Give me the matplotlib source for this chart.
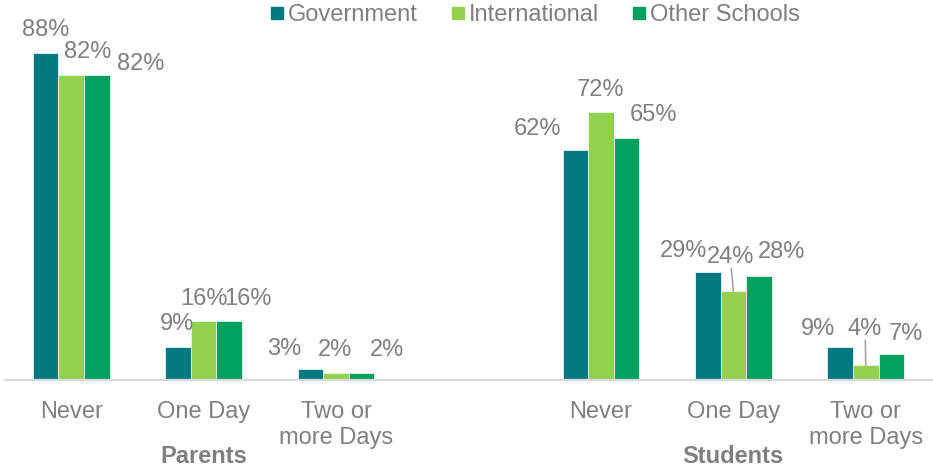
import numpy as np
import matplotlib
matplotlib.use("Agg")
import matplotlib.pyplot as plt
from matplotlib.lines import Line2D

plt.rcParams["font.family"] = ["Liberation Sans", "DejaVu Sans"]

categories = ["Never", "One Day", "Two or\nmore Days"]
groups = ["Parents", "Students"]
series = ["Government", "International", "Other Schools"]

# percentages per series: Parents (3 cats) then Students (3 cats)
government = [88, 9, 3, 62, 29, 9]
international = [82, 16, 2, 72, 24, 4]
other_schools = [82, 16, 2, 65, 28, 7]

colors = ["#007A80", "#92D050", "#00A05E"]
grey = "#7F7F7F"

# label nudges in pixels (dx, dy above bar top) so the labels don't collide
label_offsets = [
    [(0, 17), (-1.5, 16.5), (-26, 14), (-37.5, 15), (-24, 15.5), (-22, 11.5)],
    [(16, 17), (0, 15.5), (-1, 16.5), (0, 16.5), (-3, 27.5), (-1.5, 30)],
    [(43.5, 5), (18.5, 15.5), (25, 16.5), (27.5, 17.5), (23, 17.5), (15, 14)],
]
leader_lines = {(1, 4), (1, 5)}

positions = np.array([0, 1, 2, 4, 5, 6])
width = 0.193

fig = plt.figure(figsize=(9.33, 4.68), dpi=100)
ax = fig.add_axes([5 / 933, 88 / 468, 927 / 933, (380 - 8.4) / 468])

values = [government, international, other_schools]
for i, vals in enumerate(values):
    xs = positions + (i - 1) * width
    ax.bar(xs, vals, width=width, color=colors[i], edgecolor="#E8F4F2", linewidth=0.6, zorder=2)
    for j, (x, v) in enumerate(zip(xs, vals)):
        dx, dy = label_offsets[i][j]
        ax.annotate(f"{v}%", xy=(x, v), xytext=(dx, dy), textcoords="offset pixels",
                    ha="center", va="baseline", fontsize=17, color=grey)
        if (i, j) in leader_lines:
            ax.annotate("", xy=(x, v), xytext=(dx + 1, dy - 5), textcoords="offset pixels",
                        arrowprops=dict(arrowstyle="-", color="#A6A6A6", lw=1.2,
                                        shrinkA=0, shrinkB=0))

ax.set_xlim(-0.5, 6.5)
ax.set_ylim(0, 100)
ax.set_xticks(positions)
ax.set_xticklabels(categories * 2, fontsize=17, color=grey, linespacing=1.28)
ax.tick_params(axis="x", length=0, pad=14.8)
ax.set_yticks([])
for side in ["top", "right", "left"]:
    ax.spines[side].set_visible(False)
ax.spines["bottom"].set_color("#D9D9D9")
ax.spines["bottom"].set_linewidth(1.6)

for g, center in zip(groups, [1, 5]):
    ax.annotate(g, xy=(center, 0), xycoords=("data", "axes fraction"),
                xytext=(0, -83), textcoords="offset pixels",
                ha="center", va="baseline", fontsize=17, fontweight="bold", color=grey)

handles = [Line2D([], [], marker="s", linestyle="none", markersize=8.8,
                  markerfacecolor=c, markeredgecolor=c) for c in colors]
fig.legend(handles, series, loc="center", bbox_to_anchor=(535.5 / 933, 1 - 15 / 468),
           ncol=3, frameon=False, fontsize=17, labelcolor=grey,
           handlelength=0.5, handletextpad=0.2, columnspacing=1.45,
           borderpad=0, borderaxespad=0)

fig.savefig("out.png", dpi=100)
